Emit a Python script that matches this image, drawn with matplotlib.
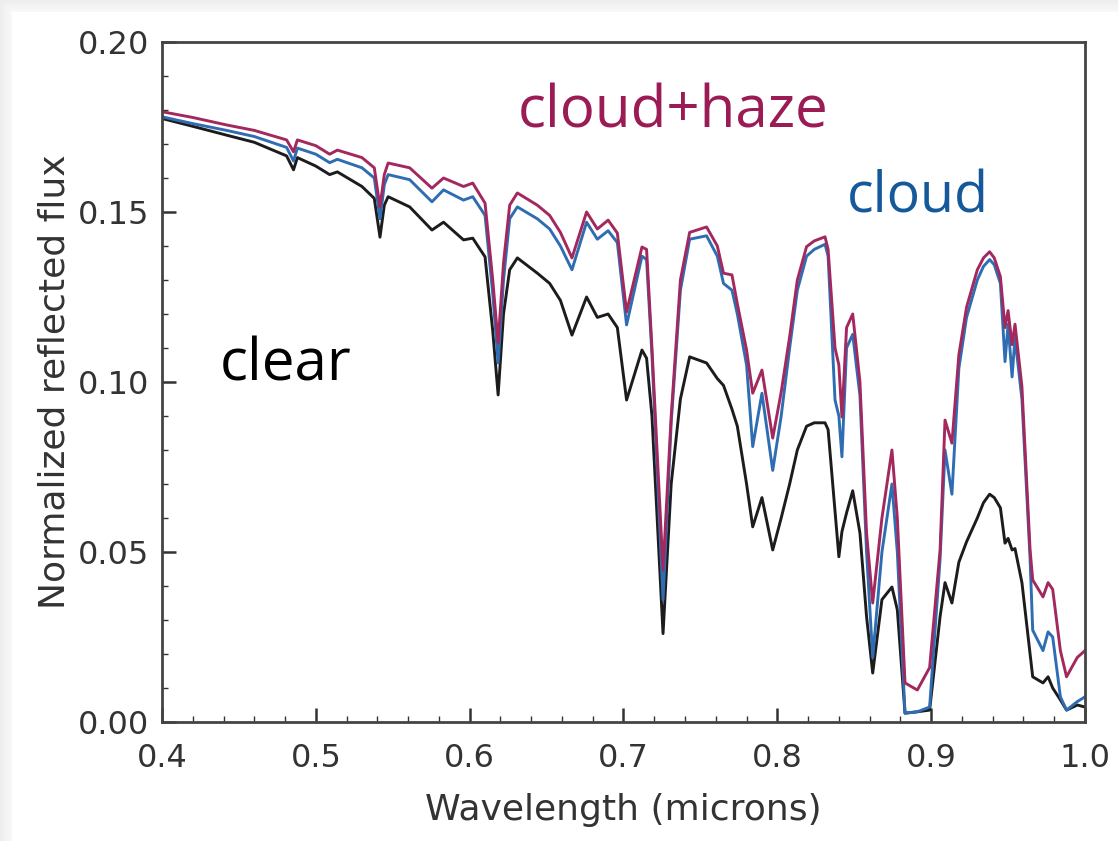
import numpy as np
import matplotlib
matplotlib.use("Agg")
import matplotlib.pyplot as plt
from matplotlib.ticker import MultipleLocator

# Wavelength grid (microns) shared by the three model spectra
wavelength = [
    0.400, 0.420, 0.442, 0.460, 0.481, 0.4855, 0.488, 0.500, 0.509, 0.514,
    0.530, 0.538, 0.5417, 0.5445, 0.547, 0.561, 0.5755, 0.583, 0.596, 0.602,
    0.610, 0.615, 0.6185, 0.622, 0.626, 0.631, 0.644, 0.652, 0.659, 0.6665,
    0.676, 0.683, 0.690, 0.696, 0.702, 0.712, 0.715, 0.7185, 0.7257, 0.731,
    0.737, 0.743, 0.754, 0.761, 0.765, 0.7705, 0.774, 0.780, 0.784, 0.790,
    0.797, 0.8025, 0.808, 0.813, 0.819, 0.824, 0.831, 0.833, 0.8375, 0.840,
    0.842, 0.845, 0.849, 0.8537, 0.858, 0.862, 0.868, 0.8745, 0.878, 0.883,
    0.891, 0.899, 0.9058, 0.909, 0.9135, 0.918, 0.923, 0.930, 0.934, 0.938,
    0.941, 0.945, 0.948, 0.950, 0.9526, 0.9545, 0.959, 0.9643, 0.966, 0.9727,
    0.976, 0.979, 0.984, 0.988, 0.995, 1.000,
]

flux_cloud_haze = [
    0.1795, 0.1778, 0.1756, 0.1740, 0.1712, 0.1677, 0.1712, 0.1695, 0.1670, 0.1682,
    0.1660, 0.1630, 0.1515, 0.1610, 0.1644, 0.1630, 0.1570, 0.1600, 0.1575, 0.1585,
    0.1526, 0.1300, 0.1115, 0.1350, 0.1520, 0.1556, 0.1520, 0.1490, 0.1440, 0.1365,
    0.1500, 0.1450, 0.1476, 0.1438, 0.1206, 0.1397, 0.1390, 0.1100, 0.0447, 0.0900,
    0.1300, 0.1440, 0.1456, 0.1400, 0.1320, 0.1315, 0.1230, 0.1094, 0.0967, 0.1035,
    0.0835, 0.0970, 0.1133, 0.1300, 0.1398, 0.1415, 0.1427, 0.1390, 0.1100, 0.1050,
    0.0897, 0.1160, 0.1200, 0.1000, 0.0556, 0.0350, 0.0600, 0.0800, 0.0600, 0.0115,
    0.0094, 0.0160, 0.0506, 0.0888, 0.0820, 0.1080, 0.1220, 0.1330, 0.1365, 0.1383,
    0.1365, 0.1310, 0.1160, 0.1210, 0.1110, 0.1170, 0.0986, 0.0506, 0.0418, 0.0368,
    0.0410, 0.0390, 0.0210, 0.0133, 0.0190, 0.0210,
]

flux_cloud = [
    0.1780, 0.1760, 0.1740, 0.1722, 0.1690, 0.1650, 0.1688, 0.1670, 0.1645, 0.1655,
    0.1630, 0.1600, 0.1480, 0.1580, 0.1610, 0.1595, 0.1530, 0.1565, 0.1535, 0.1545,
    0.1490, 0.1260, 0.1056, 0.1300, 0.1480, 0.1515, 0.1480, 0.1450, 0.1400, 0.1330,
    0.1470, 0.1420, 0.1445, 0.1410, 0.1168, 0.1370, 0.1360, 0.1080, 0.0360, 0.0880,
    0.1270, 0.1420, 0.1430, 0.1370, 0.1290, 0.1270, 0.1200, 0.1050, 0.0810, 0.0967,
    0.0740, 0.0900, 0.1100, 0.1270, 0.1370, 0.1390, 0.1405, 0.1370, 0.0947, 0.0900,
    0.0780, 0.1100, 0.1140, 0.0960, 0.0500, 0.0190, 0.0500, 0.0700, 0.0500, 0.0026,
    0.0030, 0.0044, 0.0480, 0.0800, 0.0670, 0.1040, 0.1190, 0.1300, 0.1340, 0.1360,
    0.1345, 0.1290, 0.1060, 0.1170, 0.1015, 0.1130, 0.0950, 0.0480, 0.0270, 0.0210,
    0.0265, 0.0250, 0.0074, 0.0035, 0.0060, 0.0074,
]

flux_clear = [
    0.1775, 0.1752, 0.1726, 0.1705, 0.1665, 0.1624, 0.1660, 0.1635, 0.1610, 0.1618,
    0.1575, 0.1540, 0.1426, 0.1520, 0.1545, 0.1515, 0.1447, 0.1470, 0.1418, 0.1423,
    0.1368, 0.1150, 0.0962, 0.1200, 0.1330, 0.1365, 0.1320, 0.1290, 0.1240, 0.1138,
    0.1250, 0.1190, 0.1200, 0.1160, 0.0947, 0.1094, 0.1070, 0.0900, 0.0260, 0.0700,
    0.0950, 0.1074, 0.1056, 0.1010, 0.0990, 0.0920, 0.0870, 0.0700, 0.0574, 0.0660,
    0.0506, 0.0600, 0.0700, 0.0800, 0.0870, 0.0880, 0.0880, 0.0860, 0.0620, 0.0486,
    0.0560, 0.0615, 0.0680, 0.0556, 0.0310, 0.0144, 0.0360, 0.0397, 0.0330, 0.0026,
    0.0030, 0.0035, 0.0310, 0.0410, 0.0350, 0.0470, 0.0530, 0.0600, 0.0645, 0.0670,
    0.0660, 0.0630, 0.0526, 0.0540, 0.0506, 0.0510, 0.0410, 0.0200, 0.0133, 0.0115,
    0.0133, 0.0100, 0.0065, 0.0035, 0.0050, 0.0044,
]

x_ticks = [0.4, 0.5, 0.6, 0.7, 0.8, 0.9, 1.0]
y_ticks = [0.00, 0.05, 0.10, 0.15, 0.20]

RED = "#a3285e"
BLUE = "#2f6db3"
BLACK = "#1c1c1c"

W, H = 1118, 841
fig = plt.figure(figsize=(W / 100, H / 100), dpi=100)

# light grey card border along the top and left edges, drawn behind everything
bg = np.ones((H, W, 3))
top = 12
left = 12
for i in range(top):
    bg[i, :, :] = 0.93 + 0.05 * (i / top)
for j in range(left):
    bg[:, j, :] = np.minimum(bg[:, j, :], 0.93 + 0.05 * (j / left))
bg_ax = fig.add_axes([0, 0, 1, 1], zorder=-10)
bg_ax.imshow(bg, aspect="auto", interpolation="nearest")
bg_ax.set_axis_off()

ax = fig.add_axes([162 / W, 1 - 722 / H, (1085 - 162) / W, (722 - 42) / H])
ax.set_facecolor("white")

ax.plot(wavelength, flux_clear, color=BLACK, lw=2.1, solid_joinstyle="round")
ax.plot(wavelength, flux_cloud, color=BLUE, lw=2.1, solid_joinstyle="round")
ax.plot(wavelength, flux_cloud_haze, color=RED, lw=2.1, solid_joinstyle="round")

ax.set_xlim(0.4, 1.0)
ax.set_ylim(0.0, 0.20)
ax.set_xticks(x_ticks)
ax.set_xticklabels([f"{v:.1f}" for v in x_ticks])
ax.set_yticks(y_ticks)
ax.set_yticklabels([f"{v:.2f}" for v in y_ticks])
ax.xaxis.set_minor_locator(MultipleLocator(0.02))
ax.yaxis.set_minor_locator(MultipleLocator(0.01))
ax.tick_params(which="both", direction="in", top=False, right=False,
               colors="#333333", labelcolor="#333333")
ax.tick_params(which="major", length=10, width=1.8, labelsize=23)
ax.tick_params(which="minor", length=4.5, width=1.0)
ax.tick_params(axis="x", which="major", pad=15)
ax.tick_params(axis="y", which="major", pad=9)
for s in ax.spines.values():
    s.set_color("#444444")
    s.set_linewidth(2.0)

ax.set_xlabel("Wavelength (microns)", fontsize=26, color="#333333", labelpad=14)
ax.set_ylabel("Normalized reflected flux", fontsize=26, color="#333333", labelpad=5)

ax.text(0.732, 0.1792, "cloud+haze", color="#9b1b55", fontsize=42,
        family="Open Sans", ha="center", va="center")
ax.text(0.8915, 0.1542, "cloud", color="#16599b", fontsize=40,
        family="Open Sans", ha="center", va="center")
ax.text(0.4805, 0.1048, "clear", color="black", fontsize=42,
        family="Open Sans", ha="center", va="center")

fig.savefig("out.png", dpi=100)
